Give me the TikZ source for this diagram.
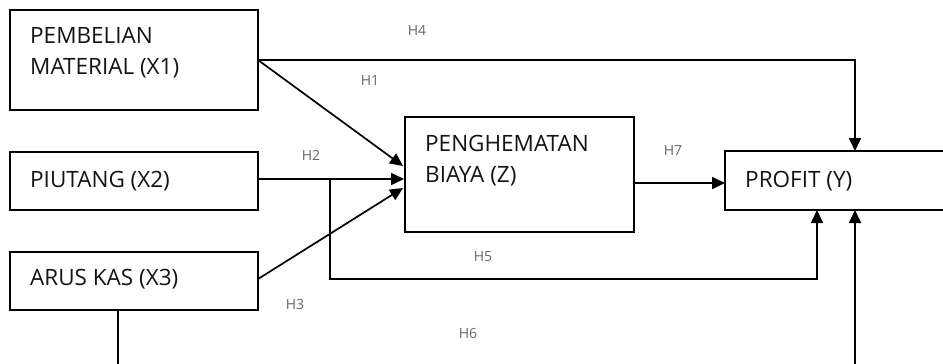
\documentclass[tikz,border=0pt]{standalone}
\usepackage{fontspec}
\setmainfont{Open Sans}
\usetikzlibrary{arrows.meta,calc}
\begin{document}
\begin{tikzpicture}[x=1pt,y=-1pt,
  box/.style={draw=black,line width=1.7pt,inner sep=0pt},
  txt/.style={anchor=base west,inner sep=0pt,font=\fontsize{22.5}{31}\selectfont,text=black!92},
  hlab/.style={inner sep=0pt,font=\fontsize{14}{16}\selectfont,text=black!60},
  conn/.style={line width=1.7pt},
  arr/.style={conn,-{Triangle[length=13pt,width=12pt]}}]
\clip (0,0) rectangle (943,364);
\fill[white] (0,0) rectangle (943,364);
% boxes
\node[box,minimum width=248pt,minimum height=100pt] (x1) at (134,60) {};
\node[box,minimum width=248pt,minimum height=58pt] (x2) at (134,181) {};
\node[box,minimum width=248pt,minimum height=58pt] (x3) at (134,281) {};
\node[box,minimum width=229pt,minimum height=115pt] (z) at (519.5,174.5) {};
\node[box,minimum width=290pt,minimum height=59pt] (y) at (870,180.5) {};
% texts (base = baseline of last line)
\node[txt,align=left] (t1) at (30,74) {PEMBELIAN\\MATERIAL (X1)};
\node[txt] (t2) at (30,187) {PIUTANG (X2)};
\node[txt] (t3) at (30,285) {ARUS KAS (X3)};
\node[txt,align=left] (tz) at (425,182) {PENGHEMATAN\\BIAYA (Z)};
\node[txt] (ty) at (745,187) {PROFIT (Y)};
% coordinates
\coordinate (x1e) at (258,60);
\coordinate (x2e) at (258,179);
\coordinate (x3e) at (258,279);
\coordinate (z1) at (403,166);
\coordinate (z2) at (404,179);
\coordinate (z3) at (403,188);
\coordinate (h5s) at (330,179);
\coordinate (h5c) at (330,279);
\coordinate (yb5) at (817,210);
\coordinate (yb6) at (855,210);
\coordinate (yt) at (855,151);
\coordinate (x3b) at (118,310);
\coordinate (h6c) at (118,400);
\coordinate (ze) at (634,183);
\coordinate (yw) at (725,183);
% connectors
\draw[arr] (x1e) -| (yt);
\draw[arr] (x1e) -- (z1);
\draw[arr] (x2e) -- (z2);
\draw[arr] (x3e) -- (z3);
\draw[arr] (h5s) -- (h5c) -| (yb5);
\draw[arr] (x3b) -- (h6c) -| (yb6);
\draw[arr] (ze) -- (yw);
% labels
\node[hlab] (l4) at (417,30) {H4};
\node[hlab] (l1) at (370,81) {H1};
\node[hlab] (l2) at (311,155) {H2};
\node[hlab] (l3) at (295,304) {H3};
\node[hlab] (l5) at (483,257) {H5};
\node[hlab] (l6) at (468,333) {H6};
\node[hlab] (l7) at (673,151) {H7};
\end{tikzpicture}
\end{document}
